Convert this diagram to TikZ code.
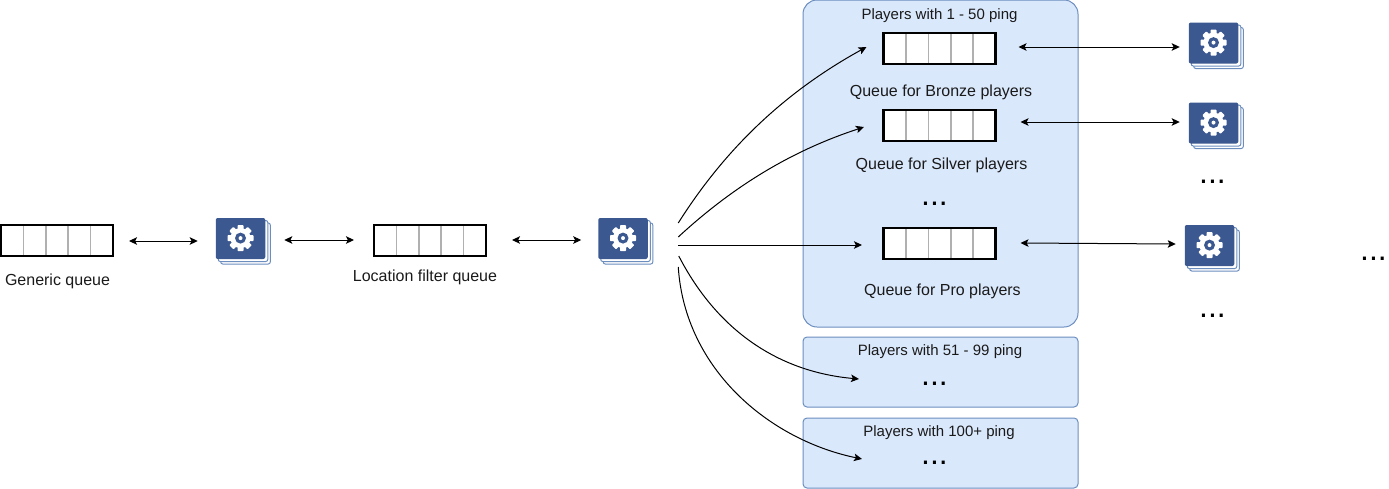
\documentclass[tikz,border=0pt]{standalone}
\usepackage{fontspec}
\setmainfont{Liberation Sans}
\usetikzlibrary{arrows.meta,calc}
\definecolor{panelfill}{HTML}{DAE8FC}
\definecolor{panelline}{HTML}{6C8EBF}
\definecolor{gearblue}{HTML}{3B5890}
\definecolor{txt}{HTML}{1A1A1A}
\definecolor{cellline}{HTML}{B0B0B0}
\tikzset{
  panel/.style={draw=panelline,fill=panelfill,line width=.75pt,inner sep=0pt,outer sep=0pt,minimum width=275*.75pt},
  queuebox/.style={draw=black,fill=white,line width=1.6pt,inner sep=0pt,outer sep=0pt,minimum width=112*.75pt,minimum height=31*.75pt},
  cellrule/.style={draw=cellline,line width=1.2pt},
  gearcard/.style={fill=gearblue,rounded corners=1.5pt,inner sep=0pt,outer sep=0pt,minimum width=49.5*.75pt,minimum height=41*.75pt},
  backcard/.style={draw=panelline,fill=white,line width=.75pt,rounded corners=1.5pt},
  lbl/.style={anchor=base,inner sep=0pt,text=txt,font=\fontsize{12pt}{14pt}\selectfont},
  hdr/.style={anchor=base,inner sep=0pt,text=txt,font=\fontsize{11.25pt}{13pt}\selectfont},
  dots/.style={anchor=base,inner sep=0pt,text=black,font=\fontsize{24pt}{26pt}\selectfont},
  oneway/.style={draw=black,line width=.75pt,-{Stealth[length=8*.75pt,width=7.5*.75pt,inset=1.8*.75pt]}},
  twoway/.style={draw=black,line width=.75pt,{Stealth[length=8*.75pt,width=7.5*.75pt,inset=1.8*.75pt]}-{Stealth[length=8*.75pt,width=7.5*.75pt,inset=1.8*.75pt]}},
}
\newcommand{\queuenode}[3]{%
  \node[queuebox] (#1) at (#2,#3) {};
  \foreach \f in {.2,.4,.6,.8}
    \draw[cellrule] ($(#1.north west)!\f!(#1.north east)+(0,1)$) -- ($(#1.south west)!\f!(#1.south east)+(0,-1)$);
  \draw[black,line width=1.6pt] (#1.north west) rectangle (#1.south east);
}
\newcommand{\gearnode}[3]{%
  \draw[backcard] (#2-24.75+5,#3-20.5+5) rectangle (#2+24.75+5,#3+20.5+5);
  \draw[backcard] (#2-24.75+2.5,#3-20.5+2.5) rectangle (#2+24.75+2.5,#3+20.5+2.5);
  \node[gearcard] (#1) at (#2,#3) {};
  \begin{scope}[shift={(#1.center)},yshift=.3pt]
    \fill[white] (0,0) circle[radius=10];
    \foreach \a in {0,45,90,135}
      \fill[white,rotate=\a,rounded corners=.6pt] (-3,-13) rectangle (3,13);
    \fill[gearblue] (0,0) circle[radius=5.5];
    \fill[white] (0,0) circle[radius=2];
  \end{scope}
}
\begin{document}
\begin{tikzpicture}[x=.75pt,y=-.75pt]
\useasboundingbox (0,0) rectangle (1389,489);

% panels
\node[panel,rounded corners=10.5pt,minimum height=327*.75pt] (p1) at (940.5,163.5) {};
\node[panel,rounded corners=3pt,minimum height=70*.75pt] (p2) at (940.5,372) {};
\node[panel,rounded corners=3pt,minimum height=70*.75pt] (p3) at (940.5,453) {};

% queues
\queuenode{q1}{57}{240.5}
\queuenode{q2}{430}{240.5}
\queuenode{q3}{939.5}{48.5}
\queuenode{q4}{939.5}{125.5}
\queuenode{q5}{939.5}{243.5}

% worker stacks
\gearnode{g1}{240.5}{238.5}
\gearnode{g2}{623}{238.5}
\gearnode{g3}{1213.5}{43}
\gearnode{g4}{1213.5}{123}
\gearnode{g5}{1209.5}{245.5}

% labels
\node[lbl] (t1) at (57.5,285.5) {Generic queue};
\node[lbl] (t2) at (425,281.5) {Location filter queue};
\node[hdr] (t3) at (939.5,19) {Players with 1 - 50 ping};
\node[lbl] (t4) at (941,96) {Queue for Bronze players};
\node[lbl] (t5) at (941.5,169) {Queue for Silver players};
\node[lbl] (t6) at (942.5,295) {Queue for Pro players};
\node[hdr] (t7) at (940,355.5) {Players with 51 - 99 ping};
\node[hdr] (t8) at (939,436.5) {Players with 100+ ping};

% ellipses
\node[dots] (d1) at (934.5,205.5) {...};
\node[dots] (d2) at (934.5,385.5) {...};
\node[dots] (d3) at (934.5,464.5) {...};
\node[dots] (d4) at (1212.5,183.5) {...};
\node[dots] (d5) at (1212.5,317.5) {...};
\node[dots] (d6) at (1373.5,260.5) {...};

% two-way connectors
\draw[twoway] ([shift={(16,0.5)}]q1.east) -- ([shift={(-18,2.5)}]g1.west);
\draw[twoway] ([shift={(19,1.5)}]g1.east) -- ([shift={(-20,-0.5)}]q2.west);
\draw[twoway] ([shift={(26,-0.5)}]q2.east) -- ([shift={(-17,1.5)}]g2.west);
\draw[twoway] ([shift={(23,-1.5)}]q3.east) -- ([shift={(-9,4)}]g3.west);
\draw[twoway] ([shift={(25,-3.5)}]q4.east) -- ([shift={(-9,-1)}]g4.west);
\draw[twoway] ([shift={(25,-0.5)}]q5.east) -- ([shift={(-9,-1.5)}]g5.west);

% fan-out connectors
\draw[oneway] ([shift={(30.5,-15.5)}]g2.east) .. controls (715,165) and (770,100) .. ([shift={(-17,-1.5)}]q3.west);
\draw[oneway] ([shift={(30.5,-1.5)}]g2.east) .. controls (740,180) and (800,148) .. ([shift={(-19.5,1.5)}]q4.west);
\draw[oneway] ([shift={(30.5,6.5)}]g2.east) -- ([shift={(-21.5,1.5)}]q5.west);
\draw[oneway] ([shift={(31,17.5)}]g2.east) .. controls (718,332) and (780,372) .. ([shift={(-219,7)}]p2.east);
\draw[oneway] ([shift={(30.5,28.5)}]g2.east) .. controls (685,370) and (770,440) .. ([shift={(-216,6)}]p3.east);
\end{tikzpicture}
\end{document}
